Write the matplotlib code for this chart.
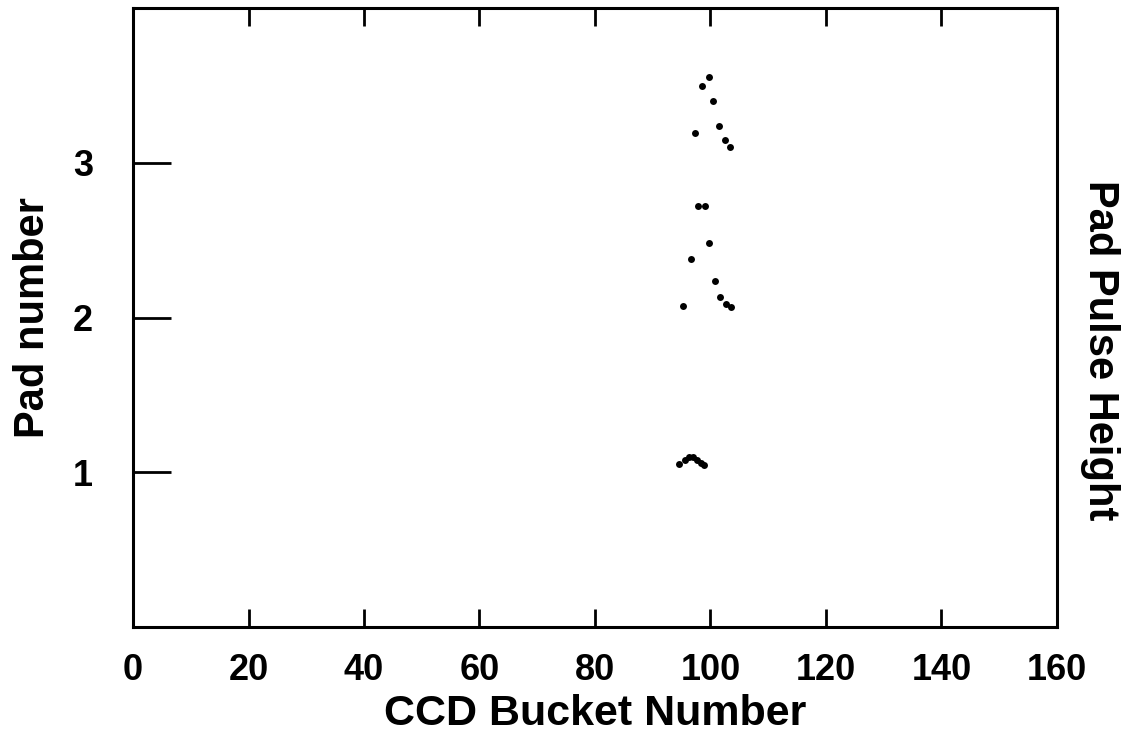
import matplotlib.pyplot as plt

# pad 1 hits
x_pad1 = [94.5, 95.5, 96.2, 96.9, 97.6, 98.3, 98.8]
y_pad1 = [1.052, 1.082, 1.099, 1.099, 1.082, 1.063, 1.050]

# pad 2 hits
x_pad2 = [97.9, 99.0, 99.8, 96.7, 100.7, 101.6, 95.3, 102.6, 103.5]
y_pad2 = [2.723, 2.723, 2.482, 2.376, 2.239, 2.131, 2.077, 2.086, 2.066]

# pad 3 hits
x_pad3 = [99.7, 98.6, 100.5, 101.5, 97.3, 102.5, 103.4]
y_pad3 = [3.557, 3.495, 3.402, 3.241, 3.192, 3.148, 3.103]

xticks = [0, 20, 40, 60, 80, 100, 120, 140, 160]
yticks = [1, 2, 3]

plt.rcParams['font.family'] = ['Liberation Sans', 'DejaVu Sans']
plt.rcParams['font.weight'] = 'bold'

fig = plt.figure(figsize=(11.33, 7.42), dpi=100)
ax = fig.add_axes([0.1174, 0.155, 0.8155, 0.834])

for xs, ys in [(x_pad1, y_pad1), (x_pad2, y_pad2), (x_pad3, y_pad3)]:
    ax.plot(xs, ys, 'o', color='black', markersize=5, markeredgewidth=0)

ax.set_xlim(0, 160)
ax.set_ylim(0, 4)
ax.set_xticks(xticks)
ax.set_yticks(yticks)
ax.tick_params(axis='x', direction='in', length=13, width=2, top=True,
               labelsize=26, pad=19)
ax.tick_params(axis='y', direction='in', length=27, width=2, right=False,
               labelsize=26, pad=29)
for lab in ax.get_xticklabels() + ax.get_yticklabels():
    lab.set_fontweight('bold')
for s in ax.spines.values():
    s.set_linewidth(2.2)

ax.set_xlabel('CCD Bucket Number', fontsize=31, fontweight='bold', labelpad=4)
ax.set_ylabel('Pad number', fontsize=30, fontweight='bold', labelpad=14)
ax.text(1.047, 0.447, 'Pad Pulse Height', transform=ax.transAxes,
        rotation=270, fontsize=30, fontweight='bold', ha='center', va='center')

plt.savefig('out.png', dpi=100)
